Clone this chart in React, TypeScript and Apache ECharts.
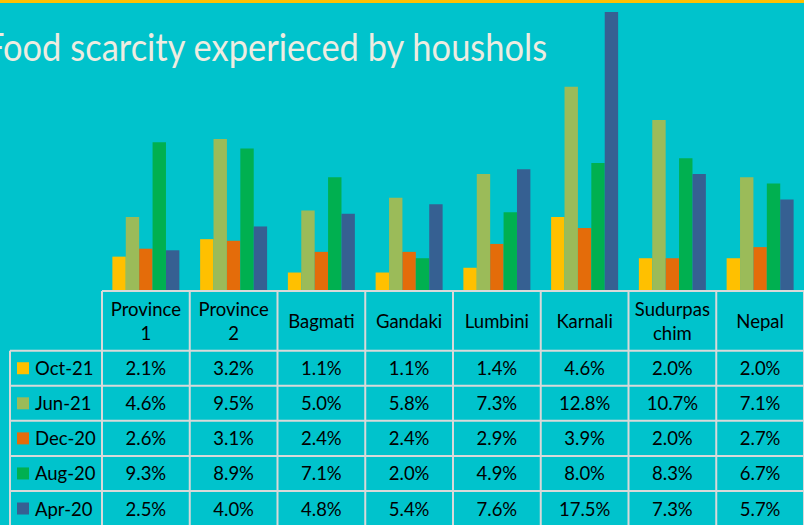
import React, { useEffect, useRef } from "react";
import * as echarts from "echarts";

const categories = ["Province 1", "Province 2", "Bagmati", "Gandaki", "Lumbini", "Karnali", "Sudurpaschim", "Nepal"];
const headerLabels = ["Province\n1", "Province\n2", "Bagmati", "Gandaki", "Lumbini", "Karnali", "Sudurpas\nchim", "Nepal"];
const seriesNames = ["Oct-21", "Jun-21", "Dec-20", "Aug-20", "Apr-20"];
const oct21 = [2.1, 3.2, 1.1, 1.1, 1.4, 4.6, 2.0, 2.0];
const jun21 = [4.6, 9.5, 5.0, 5.8, 7.3, 12.8, 10.7, 7.1];
const dec20 = [2.6, 3.1, 2.4, 2.4, 2.9, 3.9, 2.0, 2.7];
const aug20 = [9.3, 8.9, 7.1, 2.0, 4.9, 8.0, 8.3, 6.7];
const apr20 = [2.5, 4.0, 4.8, 5.4, 7.6, 17.5, 7.3, 5.7];
const seriesValues = [oct21, jun21, dec20, aug20, apr20];
const colors = ["#FFC000", "#9BBB59", "#E46C0A", "#00B050", "#366092"];
const title = "Food scarcity experieced by houshols";

const W = 804;
const H = 525;
const BG = "#00C3CC";
const LINE = "#D9D9D9";
const FONT = "Lato, 'Noto Sans', sans-serif";

export default function App() {
  const ref = useRef<HTMLDivElement>(null);
  useEffect(() => {
    if (!ref.current) return;
    const chart = echarts.init(ref.current, null, { renderer: "svg" });

    const gridLeft = 102;
    const colW = (W - gridLeft) / categories.length;
    const tableTop = 291;
    const headerBottom = 350.7;
    const rowH = 35.07;
    const rowHeadLeft = 10;
    const cellFont = `18.5px ${FONT}`;

    const g: any[] = [];
    g.push({ type: "rect", shape: { x: 0, y: 0, width: W, height: 3 }, style: { fill: "#FFC000" } });
    g.push({
      type: "text",
      x: -15,
      y: 52,
      scaleY: 1.1,
      originY: 52,
      style: {
        text: title,
        fill: "#EEECE1",
        font: `34.5px ${FONT}`,
        textAlign: "left",
        textVerticalAlign: "middle",
        align: "left",
        verticalAlign: "middle",
      },
    });
    g.push({ type: "line", shape: { x1: gridLeft, y1: tableTop, x2: W, y2: tableTop }, style: { stroke: LINE, lineWidth: 2 } });
    for (let r = 0; r < seriesNames.length; r++) {
      const y = headerBottom + r * rowH;
      g.push({ type: "line", shape: { x1: rowHeadLeft, y1: y, x2: W, y2: y }, style: { stroke: LINE, lineWidth: 2 } });
    }
    g.push({ type: "line", shape: { x1: rowHeadLeft, y1: headerBottom, x2: rowHeadLeft, y2: H }, style: { stroke: LINE, lineWidth: 2 } });
    for (let c = 0; c <= categories.length; c++) {
      const x = gridLeft + c * colW;
      g.push({ type: "line", shape: { x1: x, y1: tableTop, x2: x, y2: H }, style: { stroke: LINE, lineWidth: 2 } });
    }
    headerLabels.forEach((lab, c) => {
      g.push({
        type: "text",
        x: gridLeft + (c + 0.5) * colW,
        y: (tableTop + headerBottom) / 2,
        style: {
          text: lab,
          fill: "#000",
          font: cellFont,
          lineHeight: 24,
          textAlign: "center",
          textVerticalAlign: "middle",
          align: "center",
          verticalAlign: "middle",
        },
      });
    });
    seriesNames.forEach((name, r) => {
      const cy = headerBottom + (r + 0.5) * rowH;
      g.push({ type: "rect", shape: { x: 17, y: cy - 6, width: 12, height: 12 }, style: { fill: colors[r] } });
      g.push({
        type: "text",
        x: 35,
        y: cy,
        style: {
          text: name,
          fill: "#000",
          font: cellFont,
          textAlign: "left",
          textVerticalAlign: "middle",
          align: "left",
          verticalAlign: "middle",
        },
      });
      seriesValues[r].forEach((v, c) => {
        g.push({
          type: "text",
          x: gridLeft + (c + 0.5) * colW,
          y: cy,
          style: {
            text: v.toFixed(1) + "%",
            fill: "#000",
            font: cellFont,
            textAlign: "center",
            textVerticalAlign: "middle",
            align: "center",
            verticalAlign: "middle",
          },
        });
      });
    });

    chart.setOption({
      animation: false,
      backgroundColor: BG,
      grid: { left: gridLeft, right: 0, top: 12, bottom: H - 290, containLabel: false },
      xAxis: {
        type: "category",
        data: categories,
        axisLine: { show: false },
        axisTick: { show: false },
        axisLabel: { show: false },
      },
      yAxis: {
        type: "value",
        min: 0,
        max: 17.5,
        show: false,
        splitLine: { show: false },
      },
      series: seriesNames.map((name, i) => ({
        name,
        type: "bar",
        data: seriesValues[i],
        barWidth: 13.4,
        barGap: "0%",
        itemStyle: { color: colors[i] },
      })),
      graphic: g,
    });
    return () => chart.dispose();
  }, []);
  return <div ref={ref} style={{ position: "fixed", left: 0, top: 0, width: W, height: H }} />;
}
